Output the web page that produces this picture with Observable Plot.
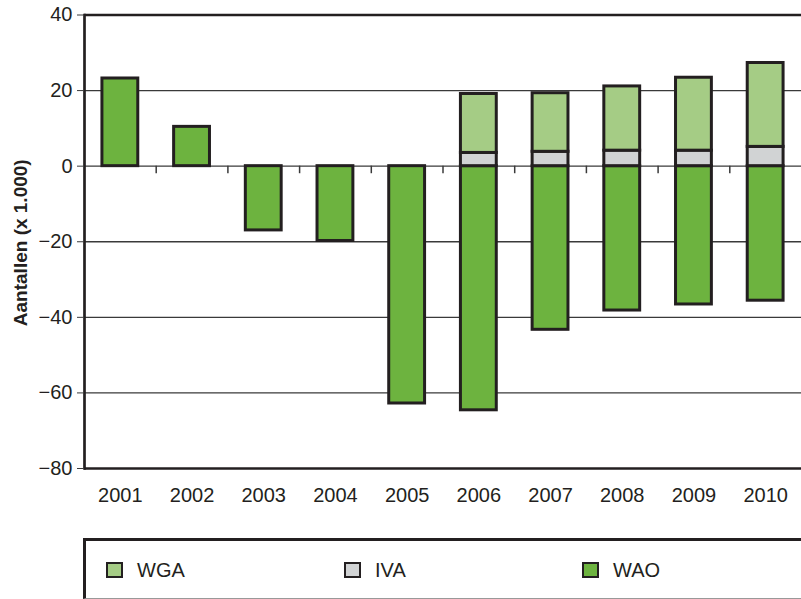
<!DOCTYPE html>
<html>
<head>
<meta charset="utf-8">
<script src="https://cdn.jsdelivr.net/npm/d3@7"></script>
<script src="https://cdn.jsdelivr.net/npm/@observablehq/plot@0.6"></script>
<style>
  html, body { margin: 0; padding: 0; background: #fff; }
  #wrap { position: relative; width: 801px; height: 599px; overflow: hidden; font-family: "Liberation Sans", Arial, sans-serif; }
  #legend { position: absolute; left: 83px; top: 538px; width: 740px; height: 57px;
    border-top: 3px solid #231f20; border-left: 3px solid #231f20; border-bottom: 1px solid #999;
    display: flex; align-items: center; }
  .item { width: 238px; display: flex; align-items: center; padding-left: 20px; box-sizing: border-box; }
  .sw { width: 17px; height: 16px; border: 2.5px solid #231f20; box-sizing: border-box; margin-right: 14px; }
  .lab { font-size: 20px; color: #231f20; line-height: 20px; }
</style>
</head>
<body>
<div id="wrap"><div id="chart"></div><div id="legend"></div></div>
<script>
const years = ["2001","2002","2003","2004","2005","2006","2007","2008","2009","2010"];
const wao = [23.2, 10.4, -17.0, -19.8, -62.8, -64.6, -43.3, -38.2, -36.6, -35.6];
const iva = [0, 0, 0, 0, 0, 3.5, 3.8, 4.1, 4.1, 5.1];
const wga = [0, 0, 0, 0, 0, 15.6, 15.5, 17.0, 19.3, 22.2];
const seriesNames = ["WAO", "IVA", "WGA"];
const seriesColors = ["#6db33f", "#d1d3d4", "#a5cc85"];
const yTicks = [40, 20, 0, -20, -40, -60, -80];
const gridValues = [20, 0, -20, -40, -60];
const yLabel = "Aantallen (x 1.000)";
const legendOrder = ["WGA", "IVA", "WAO"];

const rows = [];
years.forEach((y, i) => {
  rows.push({year: y, series: "WAO", value: wao[i]});
  if (iva[i]) rows.push({year: y, series: "IVA", value: iva[i]});
  if (wga[i]) rows.push({year: y, series: "WGA", value: wga[i]});
});

const ink = "#231f20";
const step = (801 - 84) / years.length;

const chart = Plot.plot({
  width: 801,
  height: 520,
  marginLeft: 84,
  marginRight: 0,
  marginTop: 14.5,
  marginBottom: 52,
  style: {fontFamily: "'Liberation Sans', Arial, sans-serif", color: ink, background: "#fff"},
  x: {domain: years, paddingInner: 0.5, paddingOuter: 0.25, round: false, axis: null},
  y: {domain: [-80, 40], axis: null},
  color: {domain: seriesNames, range: seriesColors},
  marks: [
    Plot.ruleY(gridValues, {stroke: "#3a3a3a", strokeWidth: 1.4}),
    Plot.ruleX(years.slice(1), {x: d => d, y1: 0, y2: -2, dx: -step / 2, stroke: "#3a3a3a", strokeWidth: 1.5}),
    Plot.barY(rows, {x: "year", y: "value", fill: "series", stroke: ink, strokeWidth: 3, order: seriesNames}),
    Plot.ruleY([40, -80], {stroke: ink, strokeWidth: 2.7}),
    Plot.frame({anchor: "left", stroke: ink, strokeWidth: 2.7}),
    Plot.axisY({ticks: yTicks, tickSize: 7, tickPadding: 5, fontSize: 20, stroke: "#3a3a3a",
      tickFormat: d => d < 0 ? "\u2212" + (-d) : String(d), label: null}),
    Plot.axisX({tickSize: 0, tickPadding: 19, fontSize: 20, label: null}),
    Plot.text([yLabel], {frameAnchor: "left", textAnchor: "middle", rotate: -90, dx: -64, dy: 1, fontWeight: "bold", fontSize: 19, fill: ink})
  ]
});
document.getElementById("chart").appendChild(chart);

const legend = document.getElementById("legend");
legendOrder.forEach(name => {
  const item = document.createElement("div");
  item.className = "item";
  const sw = document.createElement("div");
  sw.className = "sw";
  sw.style.background = seriesColors[seriesNames.indexOf(name)];
  const lab = document.createElement("span");
  lab.className = "lab";
  lab.textContent = name;
  item.appendChild(sw);
  item.appendChild(lab);
  legend.appendChild(item);
});
</script>
</body>
</html>
